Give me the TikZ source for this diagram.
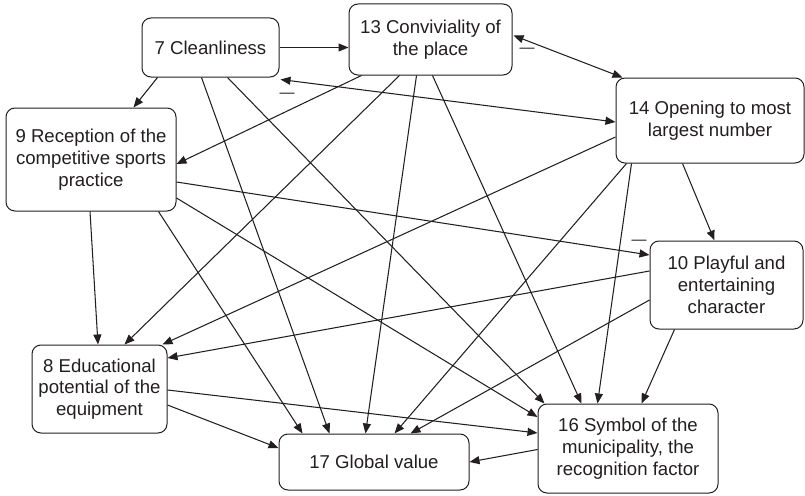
\documentclass[tikz,border=0pt]{standalone}
\usepackage{fontspec}
\setmainfont{Liberation Sans}
\usetikzlibrary{arrows.meta,calc}
\definecolor{ink}{RGB}{35,31,32}
\begin{document}
\begin{tikzpicture}[x=1pt,y=-1pt,
 box/.style={draw=ink,line width=1pt,rounded corners=9pt,align=center,inner sep=0pt,font=\fontsize{18.6}{21.7}\selectfont,text=ink},
 arr/.style={draw=ink,line width=1.05pt,-{Triangle[length=10pt,width=8pt]}},
 darr/.style={draw=ink,line width=1.05pt,{Triangle[length=10pt,width=8pt]}-{Triangle[length=10pt,width=8pt]}},
 neg/.style={font=\fontsize{15}{15}\selectfont,text=ink,inner sep=0pt}]
\useasboundingbox[fill=white] (0,0) rectangle (805,495);

\node[box,minimum width=137pt,minimum height=59pt] (n7) at (210.5,47.5) {7 Cleanliness};
\node[box,minimum width=163pt,minimum height=71pt] (n13) at (430.5,39.5) {13 Conviviality of\\the place};
\node[box,minimum width=170pt,minimum height=103pt] (n9) at (91,159.5) {9 Reception of the\\competitive sports\\practice};
\node[box,minimum width=188pt,minimum height=85pt] (n14) at (710,120.5) {14 Opening to most\\largest number};
\node[box,minimum width=153pt,minimum height=88pt] (n10) at (726.5,285) {10 Playful and\\entertaining\\character};
\node[box,minimum width=135pt,minimum height=88pt] (n8) at (99.5,389) {8 Educational\\potential of the\\equipment};
\node[box,minimum width=190pt,minimum height=56pt] (n17) at (374,462) {17 Global value};
\node[box,minimum width=180pt,minimum height=89pt] (n16) at (628,448.5) {16 Symbol of the\\municipality, the\\recognition factor};

% from 7
\draw[arr] (n7.east) -- (n7.east -| n13.west);
\draw[arr] ($(n7.south west)+(16,0)$) -- ($(n9.north west)+(128,0)$);
\draw[arr] ($(n7.south west)+(60,0)$) -- ($(n17.north west)+(51,0)$);
\draw[arr] ($(n7.south west)+(86,0)$) -- ($(n16.north west)+(7,0)$);
\draw[darr] ($(n7.south east)+(1,2)$) -- ($(n14.west)+(0,1.5)$);
\node[neg] (m1) at (287,95.5) {—};

% from 13
\draw[arr] ($(n13.south west)+(13,0)$) -- ($(n9.east)+(0,4.5)$);
\draw[arr] ($(n13.south west)+(51,0)$) -- ($(n8.north west)+(93,0)$);
\draw[arr] ($(n13.south west)+(68,0)$) -- ($(n17.north west)+(87,0)$);
\draw[arr] ($(n13.south west)+(84,0)$) -- ($(n16.north west)+(44,0)$);
\draw[darr] ($(n13.east)+(1,-4)$) -- ($(n14.north west)+(7,0)$);
\node[neg] (m2) at (527,50.5) {—};

% from 9
\draw[arr] ($(n9.south)+(-1,0)$) -- ($(n8.north)+(-1.5,0)$);
\draw[arr] ($(n9.south east)+(-18,0)$) -- ($(n17.north west)+(24,0)$);
\draw[arr] ($(n9.east)+(0,38.5)$) -- ($(n16.west)+(0,-31.5)$);
\draw[arr] ($(n9.east)+(0,22.5)$) -- ($(n10.west)+(0,-30)$);
\node[neg] (m3) at (639,242.5) {—};

% from 14
\draw[arr] ($(n14.south west)+(67,0)$) -- ($(n10.north west)+(65,0)$);
\draw[arr] ($(n14.west)+(0,16.5)$) -- ($(n8.north east)+(-5,0)$);
\draw[arr] ($(n14.south west)+(11,0)$) -- ($(n17.north west)+(116,0)$);
\draw[arr] ($(n14.south west)+(16,0)$) -- ($(n16.north west)+(60,0)$);

% from 10
\draw[arr] ($(n10.west)+(0,-14)$) -- ($(n8.east)+(0,-31)$);
\draw[arr] ($(n10.west)+(0,15)$) -- ($(n17.north east)+(-59,0)$);
\draw[arr] ($(n10.south west)+(25,0)$) -- ($(n16.north west)+(104,0)$);

% from 8
\draw[arr] ($(n8.east)+(0,16)$) -- ($(n17.west)+(0,-14)$);
\draw[arr] ($(n8.east)+(0,1)$) -- ($(n16.west)+(0,-15.5)$);

% from 16
\draw[arr] ($(n16.west)+(0,1)$) -- (n17.east);
\end{tikzpicture}
\end{document}
